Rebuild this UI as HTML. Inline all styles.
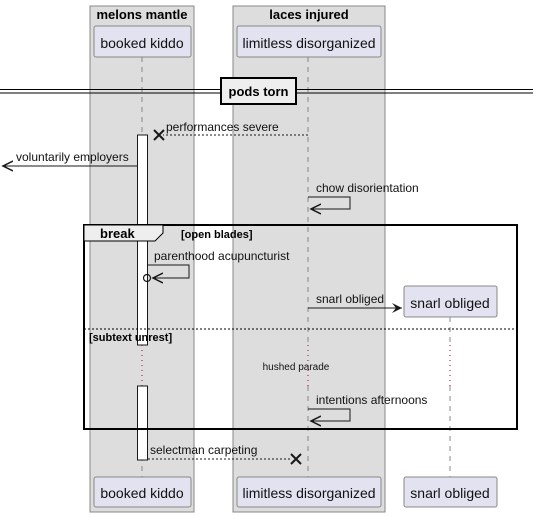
<!DOCTYPE html>
<html><head><meta charset="utf-8"><style>
html,body{margin:0;padding:0;background:#fff;}
svg{display:block;}
text{font-family:"Liberation Sans",sans-serif;}
</style></head><body>
<svg width="533" height="517" viewBox="0 0 533 517" xmlns="http://www.w3.org/2000/svg">
<defs>
<marker id="a" markerWidth="12" markerHeight="10" refX="10" refY="5" orient="auto" markerUnits="userSpaceOnUse"><path d="M0,0 L10,5 L0,10 L4,5 Z" fill="#181818"/></marker>
<marker id="o" markerWidth="12" markerHeight="12" refX="10" refY="6" orient="auto" markerUnits="userSpaceOnUse"><path d="M0,1 L10,6 L0,11" fill="none" stroke="#181818" stroke-width="1.5"/></marker>
</defs>
<!-- boxes -->
<rect x="90" y="6" width="104" height="506" fill="#dddddd" stroke="#888" stroke-width="1"/>
<rect x="233" y="6" width="152" height="506" fill="#dddddd" stroke="#888" stroke-width="1"/>
<text x="142" y="19" font-size="13" font-weight="bold" text-anchor="middle" fill="#000">melons mantle</text>
<text x="309" y="19" font-size="13" font-weight="bold" text-anchor="middle" fill="#000">laces injured</text>
<!-- lifelines -->
<g stroke="#888" stroke-dasharray="5,5" stroke-width="1">
<line x1="142" y1="57" x2="142" y2="345"/>
<line x1="142" y1="386" x2="142" y2="477"/>
<line x1="308" y1="57" x2="308" y2="345"/>
<line x1="308" y1="386" x2="308" y2="477"/>
<line x1="450" y1="317" x2="450" y2="345"/>
<line x1="450" y1="386" x2="450" y2="477"/>
</g>
<g stroke="#b00040" stroke-dasharray="1,4" stroke-width="1">
<line x1="142" y1="345" x2="142" y2="386"/>
<line x1="308" y1="345" x2="308" y2="386"/>
<line x1="450" y1="345" x2="450" y2="386"/>
</g>
<!-- participants -->
<g fill="#e2e2f0" stroke="#888" stroke-width="1">
<rect x="94" y="26" width="97" height="31" rx="2"/>
<rect x="237" y="26" width="144" height="31" rx="2"/>
<rect x="94" y="477" width="97" height="30" rx="2"/>
<rect x="237" y="477" width="144" height="30" rx="2"/>
<rect x="404" y="286" width="93" height="31" rx="2"/>
<rect x="404" y="477" width="93" height="30" rx="2"/>
</g>
<g font-size="14" fill="#111" text-anchor="middle">
<text x="142" y="48">booked kiddo</text>
<text x="309" y="48">limitless disorganized</text>
<text x="142" y="498">booked kiddo</text>
<text x="309" y="498">limitless disorganized</text>
<text x="450" y="308">snarl obliged</text>
<text x="450" y="498">snarl obliged</text>
</g>
<!-- divider -->
<line x1="0" y1="89.5" x2="533" y2="89.5" stroke="#000" stroke-width="1"/>
<line x1="0" y1="93" x2="533" y2="93" stroke="#000" stroke-width="1"/>
<rect x="221" y="78" width="75" height="26" fill="#eeeeee" stroke="#000" stroke-width="2"/>
<text x="258.5" y="96" font-size="13" font-weight="bold" text-anchor="middle">pods torn</text>
<!-- activations -->
<rect x="137.5" y="135" width="10" height="210" fill="#fff" stroke="#181818" stroke-width="1"/>
<rect x="137.5" y="386" width="10" height="74" fill="#fff" stroke="#181818" stroke-width="1"/>
<!-- messages -->
<g font-size="12" fill="#111">
<line x1="308" y1="135" x2="163" y2="135" stroke="#181818" stroke-dasharray="2,2"/>
<path d="M154,130 L164,140 M164,130 L154,140" stroke="#181818" stroke-width="2"/>
<text x="166" y="131">performances severe</text>
<line x1="137" y1="166" x2="3" y2="166" stroke="#181818" marker-end="url(#o)"/>
<text x="16" y="161">voluntarily employers</text>
<path d="M308,197 H350 V209 H311" fill="none" stroke="#181818" marker-end="url(#o)"/>
<text x="316" y="192">chow disorientation</text>
<path d="M148,265 H189 V278 H153" fill="none" stroke="#181818" marker-end="url(#o)"/>
<circle cx="147" cy="278" r="3.5" fill="none" stroke="#181818" stroke-width="1.2"/>
<text x="154" y="260">parenthood acupuncturist</text>
<line x1="308" y1="308" x2="402" y2="308" stroke="#181818" marker-end="url(#a)"/>
<text x="316" y="303">snarl obliged</text>
<text x="296" y="370" font-size="10" text-anchor="middle">hushed parade</text>
<path d="M308,409 H350 V421 H311" fill="none" stroke="#181818" marker-end="url(#o)"/>
<text x="316" y="404">intentions afternoons</text>
<line x1="148" y1="459" x2="292" y2="459" stroke="#181818" stroke-dasharray="2,2"/>
<path d="M291,454 L301,464 M301,454 L291,464" stroke="#181818" stroke-width="2"/>
<text x="150" y="454">selectman carpeting</text>
</g>
<!-- frame -->
<rect x="84" y="225" width="433" height="204" fill="none" stroke="#000" stroke-width="2"/>
<path d="M84,225 H163 V233 L155,241 H84 Z" fill="#eeeeee" stroke="#000" stroke-width="1"/>
<text x="100" y="238" font-size="13" font-weight="bold">break</text>
<text x="181" y="238" font-size="11" font-weight="bold">[open blades]</text>
<line x1="84" y1="329" x2="517" y2="329" stroke="#000" stroke-dasharray="2,2"/>
<text x="89" y="341" font-size="11" font-weight="bold">[subtext unrest]</text>
</svg>
</body></html>
